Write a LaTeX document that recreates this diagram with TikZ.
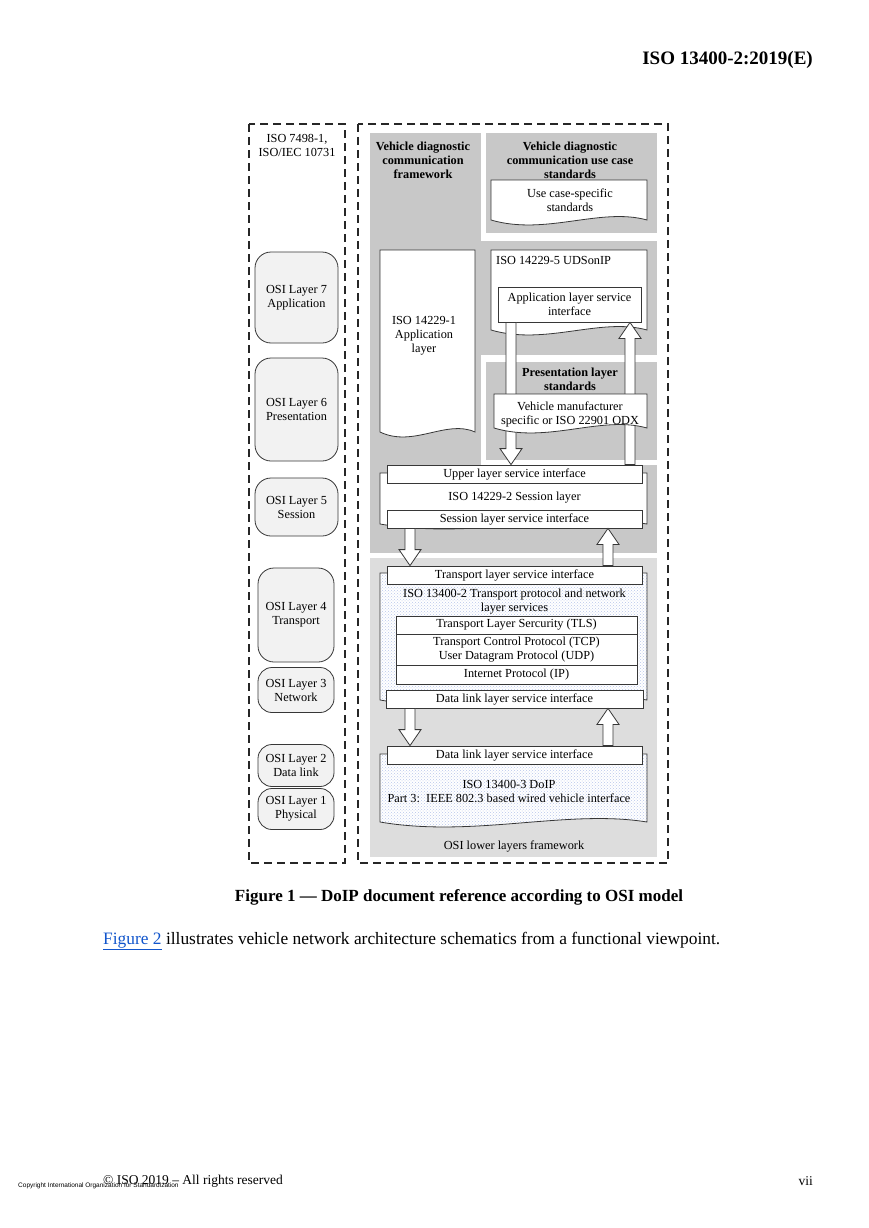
\documentclass[tikz,border=0pt]{standalone}
\usepackage{fontspec}
\setmainfont{Liberation Serif}
\newfontfamily\tinysans{Liberation Sans}
\usepackage{xcolor}
\usetikzlibrary{calc,patterns,positioning}

\definecolor{greydark}{RGB}{200,200,200}
\definecolor{greylight}{RGB}{221,221,221}
\definecolor{osifill}{RGB}{242,242,242}
\definecolor{edgegrey}{RGB}{55,55,55}
\definecolor{dotblue}{RGB}{185,198,235}
\definecolor{linkblue}{RGB}{17,85,204}

\newcommand{\dgmfont}{\fontsize{12.3}{14}\selectfont}

\tikzset{%
	dashframe/.style = {draw=black!85, dash pattern=on 8pt off 5pt, line width=1.1pt}, % Outer frames
	txt/.style       = {align=center, inner sep=0pt, font=\dgmfont}, % Plain text
	heading/.style   = {txt, font=\dgmfont\bfseries}, % Area titles
	osibox/.style    = {draw=edgegrey, fill=osifill, rounded corners=16pt, line width=0.8pt, align=center, inner sep=0pt, font=\dgmfont, minimum width=83pt}, % OSI layer
	iface/.style     = {draw=edgegrey, fill=white, line width=0.8pt, align=center, inner sep=0pt, font=\dgmfont, minimum height=18pt}, % Interface
	docline/.style   = {draw=edgegrey, fill=white, line width=0.8pt}, % Document shape
	dotfill/.style   = {preaction={fill=white}, pattern=crosshatch dots, pattern color=dotblue}, % Dotted fill
	blockarrow/.style= {draw=edgegrey, fill=white, line width=0.8pt, line join=miter}, % Hollow arrow
}

% document shape: x1, ytop, x2, ybottom
\newcommand{\docshape}[5][]{%
	\draw[docline,#1] (#2,#3) -- (#4,#3) -- (#4,#5)
	.. controls ({#4-0.3*(#4-#2)},{#5-13}) and ({#2+0.35*(#4-#2)},{#5+16}) .. (#2,#5) -- cycle;}

% hollow arrows: x, from, to
\newcommand{\arrdown}[3]{%
	\draw[blockarrow] let \p1=(#2), \p2=(#3) in
	({#1pt-5pt},\y1) -- ({#1pt-5pt},{\y2+16pt}) -- ({#1pt-11pt},{\y2+16pt}) -- ({#1pt},\y2)
	-- ({#1pt+11pt},{\y2+16pt}) -- ({#1pt+5pt},{\y2+16pt}) -- ({#1pt+5pt},\y1) -- cycle;}
\newcommand{\arrup}[3]{%
	\draw[blockarrow] let \p1=(#2), \p2=(#3) in
	({#1pt-5pt},\y1) -- ({#1pt-5pt},{\y2-16pt}) -- ({#1pt-11pt},{\y2-16pt}) -- ({#1pt},\y2)
	-- ({#1pt+11pt},{\y2-16pt}) -- ({#1pt+5pt},{\y2-16pt}) -- ({#1pt+5pt},\y1) -- cycle;}

\begin{document}
\begin{tikzpicture}[x=1pt,y=-1pt]
	\useasboundingbox (0,0) rectangle (869,1228);
	\fill[white] (0,0) rectangle (869,1228);

	% header
	\node[txt,anchor=east,font=\fontsize{19}{22}\selectfont\bfseries] (hdr) at (813,60) {ISO 13400-2:2019(E)};

	% frames
	\draw[dashframe] (249,124) rectangle (345,863);
	\draw[dashframe] (358,124) rectangle (668,863);
	\node[txt] (refstd) at (297,145) {ISO 7498-1,\\ISO/IEC 10731};

	% grey areas
	\fill[greydark] (370,133) rectangle (657,553);
	\fill[white] (481,133) rectangle (486,241);
	\fill[white] (481,233) rectangle (657,241);
	\fill[white] (481,355) rectangle (657,362);
	\fill[white] (481,355) rectangle (486,465);
	\fill[white] (481,460) rectangle (657,465);
	\fill[greylight] (370,558) rectangle (657,857);

	\node[heading] (vdcf) at (423,160) {Vehicle diagnostic\\communication\\framework};
	\node[heading] (vdcu) at (570,160) {Vehicle diagnostic\\communication use case\\standards};

	% upper layers
	\docshape{491}{180}{647}{220}
	\node[txt] (ucs) at (570,200) {Use case-specific\\standards};
	\docshape{380}{250}{475}{432}
	\node[txt] (iso1) at (424,336) {ISO 14229-1\\Application\\layer};
	\docshape{491}{250}{647}{330}
	\node[txt,anchor=west] (uds) at (496,260) {ISO 14229-5 UDSonIP};
	\node[iface,minimum width=143pt,minimum height=35pt] (appif) at (569.5,304.5) {Application layer service\\interface};
	\node[heading] (pls) at (570,379) {Presentation layer\\standards};

	% session layer
	\docshape{380}{473}{647}{524}
	\node[iface,minimum width=255pt] (upif) at (514.5,474) {Upper layer service interface};
	\node[txt] (sess) at (514.5,498) {ISO 14229-2 Session layer};
	\node[iface,minimum width=255pt] (sesif) at (514.5,519) {Session layer service interface};

	\arrdown{511}{appif.south}{upif.north}
	\arrup{630}{upif.north}{appif.south}

	\docshape{494}{394}{647}{428}
	\node[txt] (odx) at (570,414) {Vehicle manufacturer\\specific or ISO 22901 ODX};

	% transport and network
	\docshape[dotfill]{380}{573}{647}{700}
	\node[iface,minimum width=255pt] (tpif) at (514.5,575) {Transport layer service interface};
	\node[txt] (tpnet) at (514.5,602) {ISO 13400-2 Transport protocol and network\\layer services};
	\node[iface,minimum width=241pt] (tls) at (516.5,625) {Transport Layer Sercurity (TLS)};
	\node[iface,minimum width=241pt,minimum height=31pt] (tcp) at (516.5,649.5) {Transport Control Protocol (TCP)\\User Datagram Protocol (UDP)};
	\node[iface,minimum width=241pt,minimum height=19pt] (ip) at (516.5,674.5) {Internet Protocol (IP)};
	\node[iface,minimum width=257pt] (dlifa) at (514.5,699) {Data link layer service interface};

	% data link and physical
	\docshape[dotfill]{380}{754}{647}{822}
	\node[iface,minimum width=255pt] (dlifb) at (514.5,755) {Data link layer service interface};
	\node[txt] (doip) at (509,791) {ISO 13400-3 DoIP\\Part 3:\ \ IEEE 802.3 based wired vehicle interface};
	\node[txt] (lower) at (514,846) {OSI lower layers framework};

	\arrdown{410}{sesif.south}{tpif.north}
	\arrup{608}{tpif.north}{sesif.south}
	\arrdown{410}{dlifa.south}{dlifb.north}
	\arrup{608}{dlifb.north}{dlifa.south}

	% OSI layers
	\node[osibox,minimum height=91pt] (osi7) at (296.5,297.5) {OSI Layer 7\\Application};
	\node[osibox,minimum height=103pt] (osi6) at (296.5,409.5) {OSI Layer 6\\Presentation};
	\node[osibox,minimum height=58pt] (osi5) at (296.5,507) {OSI Layer 5\\Session};
	\node[osibox,minimum width=76pt,minimum height=94pt] (osi4) at (296,615) {OSI Layer 4\\Transport};
	\node[osibox,minimum width=76pt,minimum height=45pt,rounded corners=14pt] (osi3) at (296,690) {OSI Layer 3\\Network};
	\node[osibox,minimum width=76pt,minimum height=42pt,rounded corners=14pt] (osi2) at (296,765.5) {OSI Layer 2\\Data link};
	\node[osibox,minimum width=76pt,minimum height=41pt,rounded corners=14pt] (osi1) at (296,809) {OSI Layer 1\\Physical};

	% caption, text, footer
	\node[txt,font=\fontsize{17}{20}\selectfont\bfseries] (cap) at (459,897) {Figure 1 — DoIP document reference according to OSI model};
	\node[txt,anchor=west,font=\fontsize{17.4}{20}\selectfont] (body) at (103,941) {\textcolor{linkblue}{\underline{Figure 2}} illustrates vehicle network architecture schematics from a functional viewpoint.};
	\node[txt,anchor=west,font=\fontsize{13.5}{15}\selectfont] (foot) at (103,1181) {© ISO 2019 – All rights reserved};
	\node[txt,anchor=east,font=\fontsize{13.5}{15}\selectfont] (page) at (813,1181) {vii};
	\node[txt,anchor=west,font=\tinysans\fontsize{6.5}{8}\selectfont] (copy) at (18,1186) {Copyright International Organization for Standardization};
\end{tikzpicture}
\end{document}
